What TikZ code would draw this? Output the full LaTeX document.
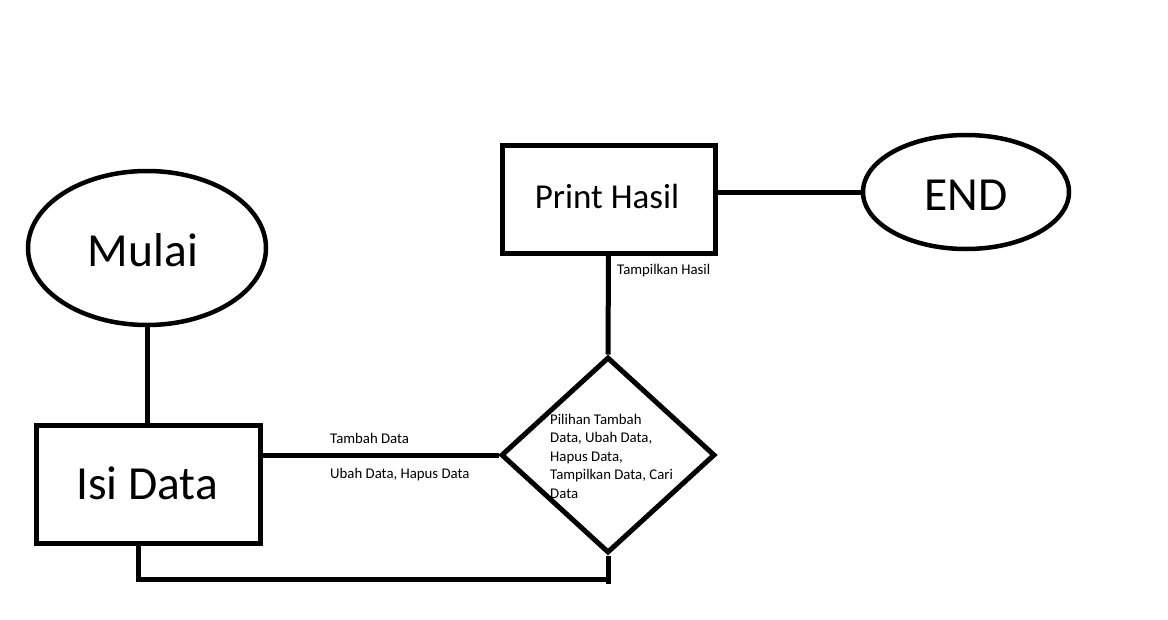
\documentclass[tikz,border=0pt]{standalone}
\usepackage{fontspec}
\setmainfont{Carlito}
\usetikzlibrary{shapes.geometric,calc}
\begin{document}
\begin{tikzpicture}[x=1pt,y=-1pt,
  shapeline/.style={draw=black,line width=5pt},
  oval/.style={draw=black,line width=4.5pt,ellipse,inner sep=0pt},
  box/.style={shapeline,rectangle,inner sep=0pt},
  decision/.style={shapeline,diamond,inner sep=0pt,minimum width=214pt,minimum height=196pt},
  conn/.style={line width=5pt,draw=black},
  big/.style={font=\fontsize{47.5}{55}\selectfont},
  mid/.style={font=\fontsize{35}{40}\selectfont},
  small/.style={font=\fontsize{14.8}{18.4}\selectfont,inner sep=0pt}]
\useasboundingbox (0,0) rectangle (1168,619);
\node[oval,minimum width=238pt,minimum height=154pt] (mulai) at (147,248) {};
\node[big] (mulaitext) at (143,250) {Mulai};
\node[box,minimum width=224pt,minimum height=118pt] (isi) at (148,484) {};
\node[big] (isitext) at (147,483) {Isi Data};
\node[box,minimum width=213pt,minimum height=108pt] (print) at (608.5,199) {};
\node[mid] (printtext) at (607,196) {Print Hasil};
\node[oval,minimum width=206pt,minimum height=114pt] (end) at (966,192) {};
\node[big] (endtext) at (966,195) {END};
\node[decision] (dia) at (608,455) {};
\node[small,anchor=north west,align=left] (diatext) at (550,414) {Pilihan Tambah\\Data, Ubah Data,\\Hapus Data,\\Tampilkan Data, Cari\\Data};
\node[small,anchor=west] (l1) at (330,438) {Tambah Data};
\node[small,anchor=west] (l2) at (330,475) {Ubah Data, Hapus Data};
\node[small,anchor=west] (l3) at (617,271) {Tampilkan Hasil};
\coordinate (corner) at (608,579);
\draw[conn] (mulai.south) -- (mulai.south |- isi.north);
\draw[conn] (dia.west) -- (dia.west -| isi.east);
\draw[conn] (print.south) -- (dia.north);
\draw[conn] (end.west) -- (end.west -| print.east);
\draw[conn] ([xshift=-10pt]isi.south) |- (corner) -- (dia.south);
\draw[conn] (corner) -- ++(0,5);
\end{tikzpicture}
\end{document}
